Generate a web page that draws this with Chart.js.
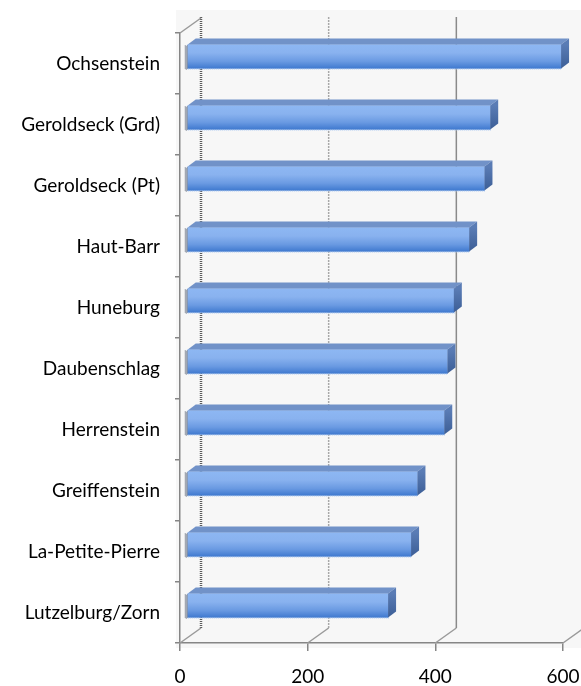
<!DOCTYPE html>
<html>
<head>
<meta charset="utf-8">
<script src="https://cdn.jsdelivr.net/npm/chart.js@4/dist/chart.umd.min.js"></script>
<style>
html,body{margin:0;padding:0;background:#fff;}
#wrap{width:581px;height:686px;}
</style>
</head>
<body>
<div id="wrap"><canvas id="c" width="581" height="686"></canvas></div>
<script>
const categories = ['Ochsenstein','Geroldseck (Grd)','Geroldseck (Pt)','Haut-Barr','Huneburg','Daubenschlag','Herrenstein','Greiffenstein','La-Petite-Pierre','Lutzelburg/Zorn'];
const values = [586, 475, 466, 442, 418, 408, 403, 361, 351, 315];
const xTickValues = [0, 200, 400, 600];

const DEPTH_X = 21, DEPTH_Y = -15;      // full depth of the 3D box
const BAR_DX = 7, BAR_DY = -7;          // bar front face position in depth
const BAR_DEPTH_X = 8, BAR_DEPTH_Y = -6; // bar thickness in depth
const FONT = "Lato, 'Open Sans', sans-serif";

const wallPlugin = {
  id: 'wall',
  beforeDraw(chart) {
    const {ctx, chartArea: a} = chart;
    ctx.save();
    ctx.fillStyle = '#f7f7f7';
    ctx.fillRect(a.left - 4, a.top - 23, chart.width - (a.left - 4), a.bottom + 5 - (a.top - 23));
    ctx.restore();
  },
  beforeDatasetsDraw(chart) {
    const {ctx, chartArea: a, scales} = chart;
    const xs = scales.x;
    ctx.save();
    xTickValues.forEach((v, i) => {
      const px = xs.getPixelForValue(v);
      ctx.beginPath();
      if (i === 0) { ctx.strokeStyle = '#5c5c5c'; ctx.lineWidth = 2.5; ctx.setLineDash([1, 1]); }
      else if (i === 1) { ctx.strokeStyle = '#a8a8a8'; ctx.lineWidth = 1.5; ctx.setLineDash([2, 1]); }
      else { ctx.strokeStyle = '#8a8a8a'; ctx.lineWidth = 1.5; ctx.setLineDash([]); }
      ctx.moveTo(px + DEPTH_X, a.top + DEPTH_Y - 1);
      ctx.lineTo(px + DEPTH_X, a.bottom + DEPTH_Y);
      ctx.stroke();
      ctx.setLineDash([]);
      ctx.beginPath();
      ctx.strokeStyle = '#9a9a9a';
      ctx.lineWidth = 1.5;
      ctx.moveTo(px, a.bottom);
      ctx.lineTo(px + DEPTH_X, a.bottom + DEPTH_Y);
      ctx.stroke();
    });
    ctx.beginPath();
    ctx.strokeStyle = '#9a9a9a';
    ctx.lineWidth = 1.5;
    ctx.moveTo(a.left, a.top);
    ctx.lineTo(a.left + DEPTH_X, a.top + DEPTH_Y);
    ctx.stroke();
    ctx.restore();

    const meta = chart.getDatasetMeta(0);
    meta.data.forEach(el => {
      const t = el.y - el.height / 2, b = el.y + el.height / 2;
      const g = ctx.createLinearGradient(0, t, 0, b);
      g.addColorStop(0, '#8db7f3');
      g.addColorStop(0.35, '#89b2ef');
      g.addColorStop(0.7, '#6a9ae2');
      g.addColorStop(1, '#3f79cf');
      el.options.backgroundColor = g;
    });
    ctx.save();
    ctx.translate(BAR_DX, BAR_DY);
  },
  afterDatasetsDraw(chart) {
    const {ctx} = chart;
    const meta = chart.getDatasetMeta(0);
    meta.data.forEach(el => {
      const t = el.y - el.height / 2, b = el.y + el.height / 2;
      const l = el.base, r = el.x;
      ctx.beginPath();
      ctx.moveTo(l, t);
      ctx.lineTo(l + BAR_DEPTH_X, t + BAR_DEPTH_Y);
      ctx.lineTo(r + BAR_DEPTH_X, t + BAR_DEPTH_Y);
      ctx.lineTo(r, t);
      ctx.closePath();
      ctx.fillStyle = '#7192c8';
      ctx.fill();
      const sg = ctx.createLinearGradient(0, t, 0, b);
      sg.addColorStop(0, '#5a7cb5');
      sg.addColorStop(1, '#3c5e96');
      ctx.beginPath();
      ctx.moveTo(r, t);
      ctx.lineTo(r + BAR_DEPTH_X, t + BAR_DEPTH_Y);
      ctx.lineTo(r + BAR_DEPTH_X, b + BAR_DEPTH_Y);
      ctx.lineTo(r, b);
      ctx.closePath();
      ctx.fillStyle = sg;
      ctx.fill();
      ctx.fillStyle = '#3f4a60';
      for (let yy = t + 1; yy < b; yy += 2) {
        ctx.fillRect(l - 3, yy, 1, 1);
        ctx.fillRect(l - 2, yy + 1, 1, 1);
        ctx.fillRect(l - 1, yy, 1, 1);
      }
      ctx.fillStyle = '#9cc0f0';
      for (let xx = l; xx < r; xx += 2) ctx.fillRect(xx, b, 1, 1);
    });
    ctx.restore();
  }
};

new Chart(document.getElementById('c'), {
  type: 'bar',
  data: {
    labels: categories,
    datasets: [{
      data: values,
      backgroundColor: () => '#6d9de6',
      borderWidth: 0,
      barThickness: 24
    }]
  },
  options: {
    indexAxis: 'y',
    responsive: false,
    devicePixelRatio: 1,
    animation: false,
    events: [],
    layout: { padding: { top: 33, right: 18, left: 0, bottom: 0 } },
    plugins: { legend: { display: false }, tooltip: { enabled: false } },
    scales: {
      x: {
        type: 'linear',
        min: 0, max: 600,
        afterFit(s) { s.height = 43; s.paddingLeft = 0; s.paddingRight = 0; },
        afterBuildTicks(s) { s.ticks = xTickValues.map(v => ({ value: v })); },
        ticks: { font: { family: FONT, size: 19 }, color: '#000', padding: 14 },
        grid: { drawOnChartArea: false, tickLength: 8, color: '#868686', lineWidth: 1.5 },
        border: { color: '#868686', width: 1.5 }
      },
      y: {
        type: 'category',
        afterFit(s) { s.width = 180; s.paddingTop = 0; s.paddingBottom = 0; },
        ticks: { font: { family: FONT, size: 19 }, color: '#000', padding: 15 },
        grid: { offset: true, drawOnChartArea: false, tickLength: 5, color: '#868686', lineWidth: 1.5 },
        border: { color: '#868686', width: 1.5 }
      }
    }
  },
  plugins: [wallPlugin]
});
</script>
</body>
</html>
